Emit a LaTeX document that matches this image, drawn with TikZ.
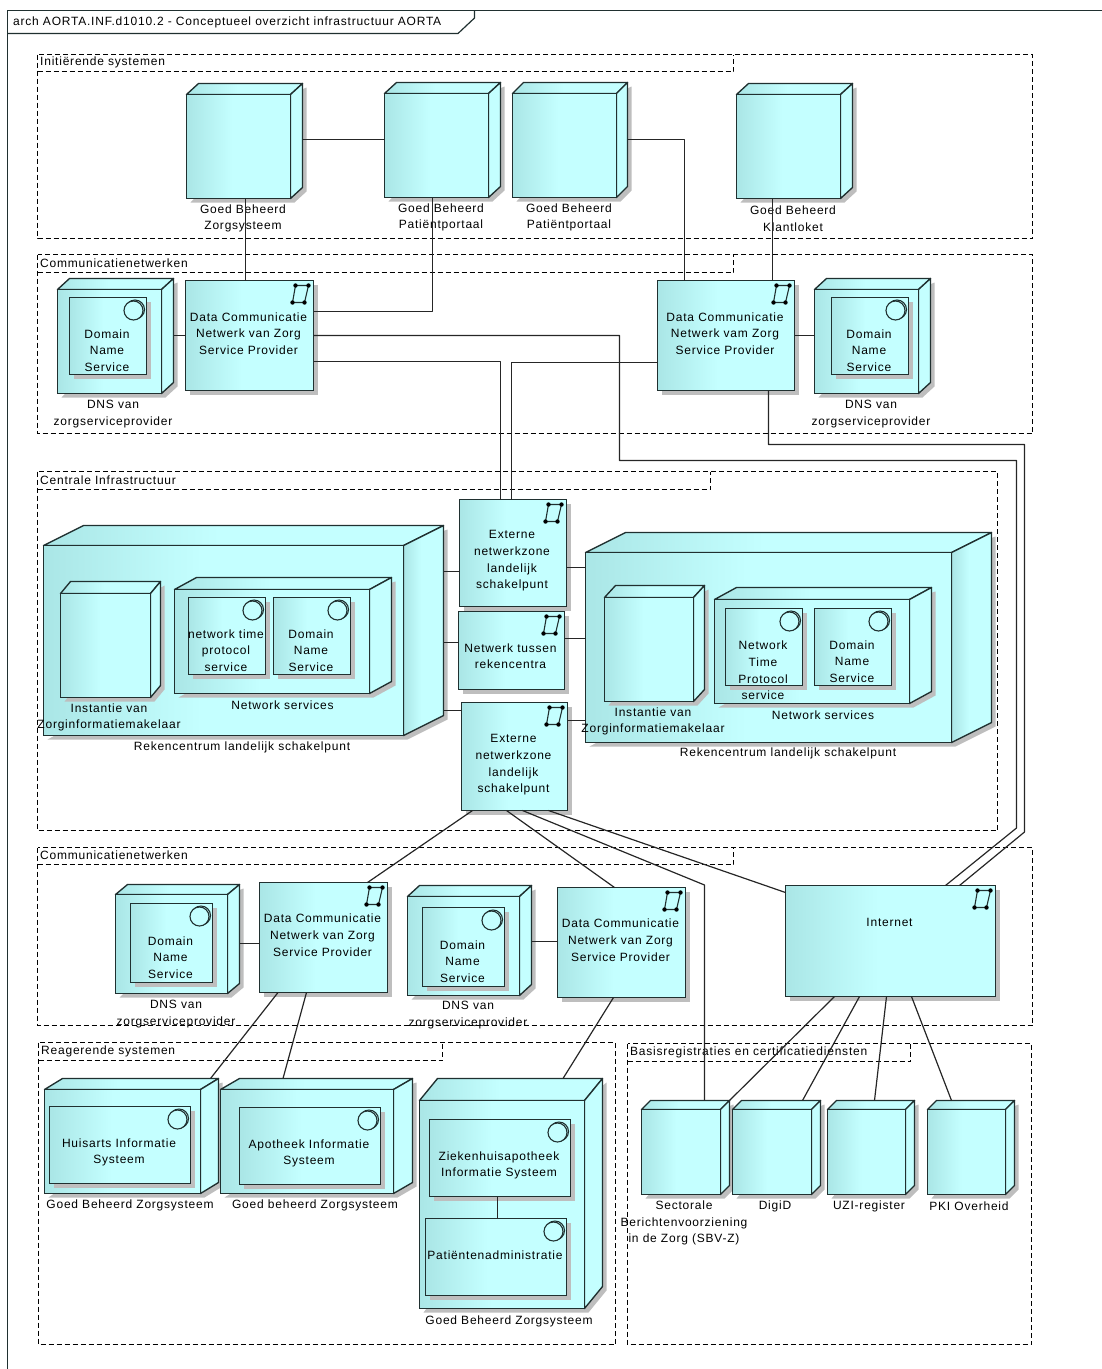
\documentclass[tikz,border=0pt]{standalone}
\usepackage{fontspec}
\setmainfont[LetterSpace=6.5]{Liberation Sans}
\usetikzlibrary{calc}
\definecolor{umldark}{RGB}{170,230,230}
\definecolor{umllight}{RGB}{196,255,255}
\definecolor{umlline}{RGB}{32,48,48}
\definecolor{umlshade}{RGB}{190,190,190}
\pgfdeclarehorizontalshading{umlfill}{100bp}{color(0bp)=(umldark);color(25bp)=(umldark);color(47bp)=(umllight);color(100bp)=(umllight)}
\newcommand{\boxtext}[2]{\makebox[0pt]{\hspace{-2pt}\smash{\raisebox{\dimexpr-#1pt-4pt\relax}{\begin{tabular}{@{}c@{}}#2\end{tabular}}}}}
\newcommand{\snapbox}[4]{%
\pgfmathsetmacro\xa{floor(#1)+.5}\pgfmathsetmacro\ya{floor(#2)+.5}\pgfmathsetmacro\xb{floor(#3)+.5}\pgfmathsetmacro\yb{floor(#4)+.5}
\pgfmathsetmacro\bw{\xb-\xa}\pgfmathsetmacro\bh{\yb-\ya}\pgfmathsetmacro\bx{(\xa+\xb)/2}\pgfmathsetmacro\by{(\ya+\yb)/2}}
\newcommand{\cuboid}[7]{%
\snapbox{#2}{#3}{#4}{#5}\pgfmathsetmacro\dpx{floor(#6)}\pgfmathsetmacro\dpy{floor(#7)}
\fill[umlshade] (\xa+4,-\yb-4) -- (\xb+4,-\yb-4) -- (\xb+\dpx+4,-\yb+\dpy-4) -- (\xb+\dpx+4,-\ya+\dpy-4) -- (\xb,-\ya) -- cycle;
\path[solid3d] (\xa,-\ya) -- (\xa+\dpx,-\ya+\dpy) -- (\xb+\dpx,-\ya+\dpy) -- (\xb,-\ya) -- cycle;
\ifdim #6pt>30pt
\path[solid3d] (\xb,-\ya) -- (\xb+\dpx,-\ya+\dpy) -- (\xb+\dpx,-\yb+\dpy) -- (\xb,-\yb) -- cycle;
\else
\path[flat3d] (\xb,-\ya) -- (\xb+\dpx,-\ya+\dpy) -- (\xb+\dpx,-\yb+\dpy) -- (\xb,-\yb) -- cycle;
\fi
\node[face,minimum width=\bw pt,minimum height=\bh pt] (#1) at (\bx,-\by) {};
\coordinate (#1-ne) at (\xb+\dpx,-\ya+\dpy);}
\newcommand{\flatbox}[7]{%
\snapbox{#2}{#3}{#4}{#5}
\fill[umlshade] (\xa+4,-\ya-4) rectangle (\xb+4,-\yb-4);
\node[face,minimum width=\bw pt,minimum height=\bh pt] (#1) at (\bx,-\by) {\boxtext{#6}{#7}};}
\newcommand{\svcglyph}[1]{%
\draw[glyph] ([shift={(-11.5,-12)}]#1.north east) circle (9.5);
\draw[glyph,fill=umllight] ([shift={(-13,-13)}]#1.north east) circle (9.5);}
\newcommand{\netglyph}[1]{%
\draw[glyph] ([shift={(-18,-5)}]#1.north east) -- ([shift={(-5,-5)}]#1.north east) -- ([shift={(-9,-22)}]#1.north east) -- ([shift={(-21,-22)}]#1.north east) -- cycle;
\foreach \dx/\dy in {-18/-5,-5/-5,-9/-22,-21/-22}{\fill[black] ([shift={(\dx,\dy)}]#1.north east) circle (2.2);}}
\newcommand{\pkgframe}[7]{%
\draw[pkg] (#2+.5,-#3-.5) rectangle (#4+.5,-#5-.5);
\draw[pkg] (#2+.5,-#7-.5) -- (#6+.5,-#7-.5) -- (#6+.5,-#3-.5);
\node[lbl,anchor=west] (#1) at (#2+3,-#3/2-#7/2) {\pkgname};}
\begin{document}
\begin{tikzpicture}[x=1pt,y=1pt,font=\fontsize{12}{16.7}\selectfont,
face/.style={draw=umlline,line width=1.35pt,shade,shading=umlfill,inner sep=0pt,outer sep=0pt},
solid3d/.style={draw=umlline,line width=1.35pt,line join=round,shade,shading=umlfill},
flat3d/.style={draw=umlline,line width=1.35pt,line join=round,fill=umllight},
glyph/.style={draw=umlline,line width=1.1pt},
pkg/.style={draw=black,line width=1pt,dash pattern=on 5pt off 3pt},
lbl/.style={align=center,inner sep=0pt,text=black},
capt/.style={lbl,yshift=-1.5},
link/.style={draw=black!85,line width=1.2pt,line join=round}]
\useasboundingbox (0,0) rectangle (1102,-1369);
\draw[line width=1.2pt,draw=umlline] (7.5,-1369) -- (7.5,-10.5) -- (1102,-10.5);
\draw[line width=1.2pt,draw=umlline] (474.5,-10.5) -- (474.5,-18) -- (458,-33.5) -- (7.5,-33.5);
\node[capt,anchor=west] (title) at (13,-21) {arch AORTA.INF.d1010.2 - Conceptueel overzicht infrastructuur AORTA};
\def\pkgname{Initiërende systemen}\pkgframe{pinit}{37}{54}{1032}{238}{733}{71}
\def\pkgname{Communicatienetwerken}\pkgframe{pcomm}{37}{254}{1032}{433}{733}{272}
\def\pkgname{Centrale Infrastructuur}\pkgframe{pcentr}{37}{471}{997}{830}{710}{489}
\def\pkgname{Communicatienetwerken}\pkgframe{pcommb}{37}{847}{1032}{1025}{733}{864}
\def\pkgname{Reagerende systemen}\pkgframe{preag}{38}{1042}{615}{1344}{442}{1060}
\def\pkgname{Basisregistraties en certificatiediensten}\pkgframe{pbasis}{627}{1043}{1031}{1344}{910}{1061}
\cuboid{gz}{186}{94}{290}{198}{12}{11}
\cuboid{gp}{384}{93}{488}{197}{12}{11}
\cuboid{gpb}{512}{93}{616}{197}{11}{11}
\cuboid{gk}{736}{94}{840}{198}{12}{11}
\node[capt] (gzl) at (243,-217) {Goed Beheerd\\Zorgsysteem};
\node[capt] (gpl) at (441,-216) {Goed Beheerd\\Patiëntportaal};
\node[capt] (gpbl) at (569,-216) {Goed Beheerd\\Patiëntportaal};
\node[capt] (gkl) at (793,-217) {Goed Beheerd\\Klantloket};
\cuboid{dnsa}{57}{289}{161}{393}{12}{11}
\flatbox{dnsai}{69}{297}{146}{374}{14.5}{Domain\\Name\\Service}
\svcglyph{dnsai}
\node[capt] (dnsal) at (113,-412.5) {DNS van\\zorgserviceprovider};
\flatbox{dca}{185}{280}{313}{390}{-2}{Data Communicatie\\Netwerk van Zorg\\Service Provider}
\netglyph{dca}
\flatbox{dcb}{657}{280}{794}{390}{-2}{Data Communicatie\\Netwerk vam Zorg\\Service Provider}
\netglyph{dcb}
\cuboid{dnsb}{814}{289}{918}{393}{12}{11}
\flatbox{dnsbi}{831}{297}{908}{374}{14.5}{Domain\\Name\\Service}
\svcglyph{dnsbi}
\node[capt] (dnsbl) at (871,-412.5) {DNS van\\zorgserviceprovider};
\cuboid{rzl}{43}{545}{403}{735}{40}{20}
\cuboid{inl}{60}{593}{150}{697}{10}{12}
\node[capt] (inll) at (109,-716) {Instantie van\\Zorginformatiemakelaar};
\cuboid{nsl}{174}{589}{369}{693}{22}{12}
\flatbox{ntpl}{188}{597}{265}{674}{14.5}{network time\\protocol\\service}
\svcglyph{ntpl}
\flatbox{dnsl}{273}{597}{350}{674}{14.5}{Domain\\Name\\Service}
\svcglyph{dnsl}
\node[capt] (nsll) at (282.5,-704) {Network services};
\node[capt] (rzll) at (242,-746) {Rekencentrum landelijk schakelpunt};
\cuboid{rzr}{585}{552}{951}{742}{40}{20}
\cuboid{inr}{604}{597}{693}{701}{11}{12}
\node[capt] (inrl) at (653,-720) {Instantie van\\Zorginformatiemakelaar};
\cuboid{nsr}{714}{599}{909}{703}{22}{12}
\flatbox{ntpr}{725}{608}{802}{685}{23.5}{Network\\Time\\Protocol\\service}
\svcglyph{ntpr}
\flatbox{dnsr}{814}{608}{891}{685}{14.5}{Domain\\Name\\Service}
\svcglyph{dnsr}
\node[capt] (nsrl) at (823,-714) {Network services};
\node[capt] (rzrl) at (788,-752) {Rekencentrum landelijk schakelpunt};
\flatbox{extt}{459}{499}{566}{606}{6.5}{Externe\\netwerkzone\\landelijk\\schakelpunt}
\netglyph{extt}
\flatbox{net}{458}{611}{564}{689}{5.5}{Netwerk tussen\\rekencentra}
\netglyph{net}
\flatbox{extb}{461}{702}{567}{810}{7}{Externe\\netwerkzone\\landelijk\\schakelpunt}
\netglyph{extb}
\cuboid{dnsc}{115}{894}{227}{993}{12}{10}
\flatbox{dnsci}{130}{903}{212}{982}{14.5}{Domain\\Name\\Service}
\svcglyph{dnsci}
\node[capt] (dnscl) at (176,-1012.5) {DNS van\\zorgserviceprovider};
\flatbox{dcc}{259}{882}{387}{992}{-2.5}{Data Communicatie\\Netwerk van Zorg\\Service Provider}
\netglyph{dcc}
\cuboid{dnsd}{407}{896}{519}{995}{12}{11}
\flatbox{dnsdi}{422}{907}{504}{986}{14.5}{Domain\\Name\\Service}
\svcglyph{dnsdi}
\node[capt] (dnsdl) at (468,-1013.5) {DNS van\\zorgserviceprovider};
\flatbox{dcd}{557}{887}{685}{997}{-2.5}{Data Communicatie\\Netwerk van Zorg\\Service Provider}
\netglyph{dcd}
\flatbox{inet}{785}{885}{995}{996}{-18.5}{Internet}
\netglyph{inet}
\cuboid{hais}{44}{1089}{200}{1193}{18}{11}
\flatbox{haisi}{49}{1106}{190}{1183}{6}{Huisarts Informatie\\Systeem}
\svcglyph{haisi}
\node[capt] (haisl) at (130,-1204) {Goed Beheerd Zorgsysteem};
\cuboid{apo}{220}{1089}{393}{1193}{19}{11}
\flatbox{apoi}{239}{1107}{380}{1184}{6}{Apotheek Informatie\\Systeem}
\svcglyph{apoi}
\node[capt] (apol) at (315,-1204) {Goed beheerd Zorgsysteem};
\cuboid{zkh}{419}{1100}{584}{1308}{18}{22}
\flatbox{zkhi}{429}{1119}{570}{1196}{6}{Ziekenhuisapotheek\\Informatie Systeem}
\svcglyph{zkhi}
\flatbox{pat}{425}{1218}{566}{1295}{-2}{Patiëntenadministratie}
\svcglyph{pat}
\node[capt] (zkhl) at (509,-1320) {Goed Beheerd Zorgsysteem};
\cuboid{sbv}{641}{1109}{720}{1194}{9}{9}
\node[capt] (sbvl) at (684,-1221.5) {Sectorale\\Berichtenvoorziening\\in de Zorg (SBV-Z)};
\cuboid{digid}{732}{1109}{811}{1194}{9}{9}
\node[capt] (digidl) at (775,-1205) {DigiD};
\cuboid{uzi}{827}{1109}{905}{1194}{9}{9}
\node[capt] (uzil) at (869,-1205) {UZI-register};
\cuboid{pki}{927}{1109}{1005}{1194}{9}{9}
\node[capt] (pkil) at (969,-1205) {PKI Overheid};
\coordinate (ba) at (619.5,-460.5);
\coordinate (bb) at (1016.5,-460.5);
\coordinate (bc) at (1016.5,-828);
\coordinate (bd) at (1024.5,-444.5);
\coordinate (be) at (1024.5,-832);
\coordinate (bf) at (704.5,-885);
\draw[link] ([xshift=7]gz.south) -- ([xshift=7]gz.south |- dca.north);
\draw[link] ([xshift=-4]gp.south) |- ([yshift=24]dca.east);
\draw[link] ([xshift=12,yshift=7]gz.east) -- ([yshift=6]gp.west);
\draw[link] ([xshift=11,yshift=6]gpb.east) -| ([xshift=-41.5]dcb.north);
\draw[link] ([xshift=-16]gk.south) -- ([xshift=-16]gk.south |- dcb.north);
\draw[link] ([xshift=12,yshift=6]dnsa.east) -- ([yshift=6]dnsa.east -| dca.west);
\draw[link] (dcb.east) -- (dcb.east -| dnsb.west);
\draw[link] ([yshift=-26]dca.east) -| ([xshift=-12.5]extt.north);
\draw[link] ([yshift=-27]dcb.west) -| ([xshift=-1.5]extt.north);
\draw[link] (dca.east) -| (ba) -- (bb) -- (bc) -- ([xshift=55]inet.north);
\draw[link] ([xshift=42.5]dcb.south) |- (bd) -- (be) -- ([xshift=69]inet.north);
\draw[link] ([yshift=-18.5]extt.west) -- ([yshift=-18.5]extt.west -| rzl-ne);
\draw[link] ([yshift=8]net.west) -- ([yshift=8]net.west -| rzl-ne);
\draw[link] ([yshift=46]extb.west) -- ([yshift=46]extb.west -| rzl-ne);
\draw[link] ([yshift=-14.5]extt.east) -- ([yshift=-14.5]extt.east -| rzr.west);
\draw[link] ([yshift=12]net.east) -- ([yshift=12]net.east -| rzr.west);
\draw[link] ([yshift=36]extb.east) -- ([yshift=36]extb.east -| rzr.west);
\draw[link] ([xshift=-42]extb.south) -- ([xshift=44]dcc.north);
\draw[link] ([xshift=-8]extb.south) -- ([xshift=-7]dcd.north);
\draw[link] ([xshift=8]extb.south) -- (bf) -- (bf |- sbv-ne);
\draw[link] ([xshift=34]extb.south) -- ([yshift=48.5]inet.west);
\draw[link] ([xshift=12,yshift=.5]dnsc.east) -- ([yshift=.5]dnsc.east -| dcc.west);
\draw[link] ([xshift=12,yshift=4.5]dnsd.east) -- ([yshift=4.5]dnsd.east -| dcd.west);
\draw[link] ([xshift=-45.5]dcc.south) -- ([xshift=-8]hais-ne);
\draw[link] ([xshift=-17]dcc.south) -- ([xshift=-129.5]apo-ne);
\draw[link] ([xshift=-8]dcd.south) -- ([xshift=-39.5]zkh-ne);
\draw[link] ([xshift=-2.5]zkhi.south) -- ([xshift=-2.5]zkhi.south |- pat.north);
\draw[link] ([xshift=-56]inet.south) -- (sbv-ne);
\draw[link] ([xshift=-31]inet.south) -- ([xshift=-18]digid-ne);
\draw[link] ([xshift=-4]inet.south) -- ([xshift=-40]uzi-ne);
\draw[link] ([xshift=21]inet.south) -- ([xshift=-63]pki-ne);
\end{tikzpicture}
\end{document}
